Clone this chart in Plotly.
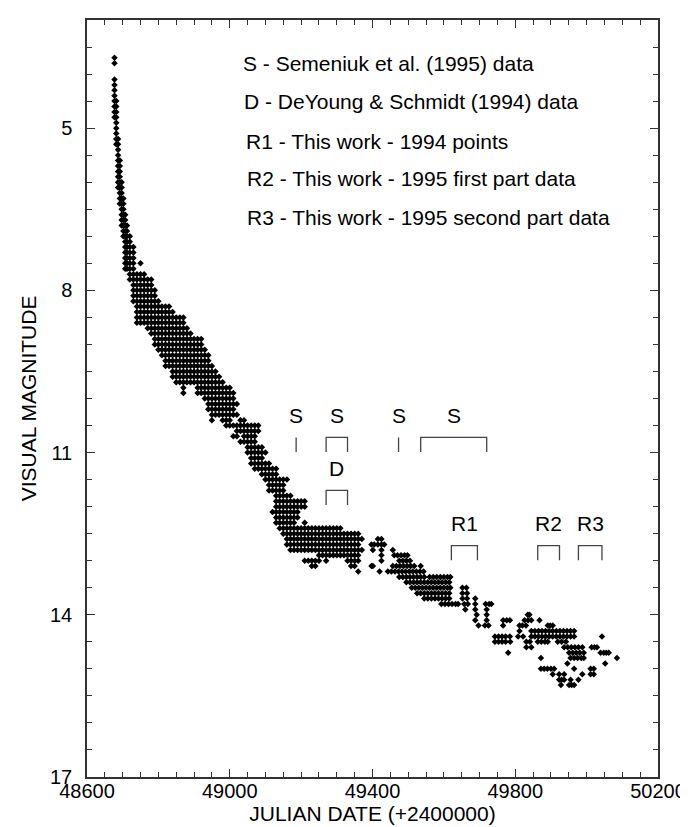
import plotly.graph_objects as go

# ---------------- data (magnitudes stored in tenths of a magnitude) ----------------
# dense part of the light curve: one column of estimates per date
col_jd = [48677, 48682, 48687, 48692, 48697, 48702, 48707, 48712, 48720, 48730,
          48740, 48750, 48760, 48770, 48780, 48790, 48800, 48810, 48820, 48830,
          48840, 48850, 48860, 48870, 48880, 48890, 48900, 48910, 48920, 48930,
          48940, 48950, 48960, 48970, 48980, 48990, 49000, 49010, 49020, 49030,
          49040, 49050, 49060, 49070, 49080, 49090, 49100, 49110, 49120, 49130,
          49140, 49150, 49160, 49170, 49180, 49190, 49200, 49210, 49220, 49230,
          49240, 49250, 49260, 49270, 49280, 49290, 49300, 49310, 49320, 49330,
          49340, 49350, 49360, 49370]
col_mag10 = [
    [37, 38, 41, 42, 43, 44, 45, 46, 47, 48],
    [45, 46, 47, 48, 49, 50, 51, 52, 53],
    [52, 53, 54, 55, 56, 57, 58, 59, 60, 61],
    [56, 57, 58, 59, 60, 61, 62, 63, 64],
    [60, 61, 62, 63, 64, 65, 66, 67, 68],
    [63, 64, 65, 66, 67, 68, 69, 70],
    [66, 67, 68, 69, 70, 71, 72, 73, 74, 75, 76],
    [68, 69, 70, 71, 72, 73, 74, 75, 76],
    [70, 71, 72, 73, 74, 75, 76, 77, 78],
    [72, 73, 74, 75, 76, 77, 78, 79, 80, 81, 82],
    [77, 78, 79, 80, 81, 82, 83, 84, 85, 86],
    [75, 77, 78, 79, 80, 81, 82, 83, 84, 85, 86],
    [77, 78, 79, 80, 81, 82, 83, 84, 85, 86],
    [78, 79, 80, 81, 82, 83, 84, 85, 86, 87],
    [78, 79, 80, 81, 82, 83, 84, 85, 86, 87, 88],
    [80, 81, 82, 83, 84, 85, 86, 87, 88, 89, 90],
    [82, 83, 84, 85, 86, 87, 88, 89, 90, 91],
    [83, 84, 85, 86, 87, 88, 89, 90, 91, 92],
    [83, 84, 85, 86, 87, 88, 89, 90, 91, 92, 93, 94],
    [83, 84, 85, 86, 87, 88, 89, 90, 91, 92, 93, 94],
    [84, 85, 86, 87, 88, 89, 90, 91, 92, 93, 94, 95, 96],
    [85, 86, 87, 88, 89, 90, 91, 92, 93, 94, 95, 96, 97],
    [85, 86, 87, 88, 89, 90, 91, 92, 93, 94, 95, 96, 97],
    [85, 86, 87, 88, 89, 90, 91, 92, 93, 94, 95, 96, 97, 98, 99],
    [87, 88, 89, 90, 91, 92, 93, 94, 95, 96, 97],
    [88, 89, 90, 91, 92, 93, 94, 95, 96, 97],
    [89, 90, 91, 92, 93, 94, 95, 96, 97],
    [89, 90, 91, 92, 93, 94, 95, 96, 97, 98, 99],
    [89, 90, 91, 92, 93, 94, 95, 96, 97, 98, 99],
    [91, 92, 93, 94, 95, 96, 97, 98, 99, 100],
    [92, 93, 94, 95, 96, 97, 98, 99, 100, 101, 102],
    [94, 95, 96, 97, 98, 99, 100, 101, 102, 103, 104],
    [95, 96, 97, 98, 99, 100, 101, 102, 103],
    [96, 97, 98, 99, 100, 101, 102, 103],
    [97, 98, 99, 100, 101, 102, 103, 104],
    [98, 99, 100, 101, 102, 103, 104, 105],
    [98, 99, 100, 101, 102, 103, 104, 105],
    [99, 100, 101, 102, 103, 105, 107],
    [101, 103, 105, 106, 107],
    [104, 105, 106, 108],
    [104, 105, 106, 107, 108],
    [105, 106, 107, 108, 109, 110],
    [105, 106, 107, 108, 109, 110, 111, 112],
    [105, 106, 107, 108, 109, 110, 111, 112, 113],
    [105, 106, 109, 110, 111, 112, 113],
    [109, 110, 111, 112, 113, 114],
    [110, 112, 113, 114, 115],
    [112, 113, 114, 115, 116, 117],
    [113, 114, 115, 116, 117, 121],
    [113, 114, 115, 116, 117, 118, 119, 120, 121, 122, 123],
    [115, 116, 117, 118, 119, 120, 121, 122, 123, 124],
    [115, 116, 117, 118, 119, 120, 121, 122, 123, 124, 125],
    [115, 118, 119, 120, 121, 122, 123, 124, 125, 126, 127],
    [118, 119, 120, 121, 122, 123, 124, 125, 126, 127, 128],
    [119, 120, 121, 122, 123, 124, 125, 126, 127, 128],
    [119, 120, 121, 122, 124, 125, 126, 127, 128],
    [119, 120, 124, 125, 126, 127, 128],
    [119, 120, 123, 124, 125, 126, 127, 128, 130],
    [124, 125, 126, 127, 128, 130],
    [124, 125, 126, 127, 128, 130, 131],
    [124, 125, 126, 127, 128, 130, 131],
    [124, 125, 126, 127, 128, 129, 130],
    [124, 125, 126, 127, 128, 129],
    [124, 125, 126, 127, 128, 129, 130],
    [124, 125, 126, 127, 128, 129],
    [124, 125, 126, 127, 128, 129],
    [124, 125, 126, 127, 128, 129],
    [124, 125, 126, 127, 128, 129],
    [125, 126, 127, 128, 129],
    [125, 126, 127, 128, 129, 130],
    [125, 126, 127, 128, 129, 130, 131],
    [125, 126, 127, 128, 129, 130, 131],
    [125, 126, 127, 128, 129, 130, 132],
    [126, 128],
]

# sparse late part: one row of dates per magnitude
row_mag10 = [126, 127, 128, 129, 130, 131, 132, 133, 134, 135, 136, 137, 138, 139,
             140, 141, 142, 143, 144, 145, 146, 147, 148, 149, 150, 151, 152, 153]
row_jd = [
    [49415, 49425],
    [49397, 49405, 49415, 49425, 49433],
    [49401, 49425, 49457],
    [49425, 49461, 49470, 49480, 49490, 49498],
    [49425, 49475, 49485, 49495, 49505],
    [49397, 49401, 49457, 49467, 49477, 49487, 49497, 49507, 49517, 49535],
    [49420, 49443, 49453, 49463, 49473, 49483, 49493, 49503, 49513, 49523, 49533, 49543],
    [49475, 49485, 49495, 49505, 49515, 49525, 49535, 49545, 49560, 49570, 49580,
     49590, 49600, 49610, 49618],
    [49495, 49505, 49515, 49525, 49535, 49545, 49555, 49565, 49575, 49585, 49595,
     49605, 49615],
    [49510, 49520, 49530, 49540, 49550, 49560, 49570, 49580, 49590, 49600, 49610,
     49618, 49652, 49663],
    [49525, 49535, 49545, 49555, 49565, 49575, 49585, 49595, 49605, 49615, 49652, 49665],
    [49545, 49555, 49565, 49575, 49585, 49595, 49605, 49615, 49652, 49665, 49688],
    [49593, 49603, 49613, 49623, 49633, 49640, 49657, 49667, 49688, 49717, 49727, 49733],
    [49660, 49688, 49720],
    [49692, 49720, 49835, 49840],
    [49688, 49720, 49766, 49776, 49785, 49826, 49836, 49845, 49868],
    [49697, 49715, 49725, 49766, 49812, 49820, 49830, 49891, 49898, 49905],
    [49812, 49845, 49855, 49865, 49875, 49885, 49895, 49905, 49915, 49925, 49935,
     49945, 49955, 49965],
    [49743, 49753, 49763, 49773, 49785, 49808, 49822, 49845, 49855, 49865, 49875,
     49885, 49895, 49905, 49915, 49925, 49935, 49945, 49955, 49965, 50043],
    [49743, 49753, 49763, 49773, 49786, 49831, 49841, 49863, 49873, 49883, 49891,
     49919, 49930, 49942],
    [49831, 49845, 49937, 49947, 49957, 49967, 49977, 49988, 50014, 50022, 50029],
    [49780, 49951, 49961, 49971, 49981, 49992, 50039, 50048, 50055, 50062],
    [49872, 49955, 49965, 49975, 49985, 49992, 50085],
    [49946, 50052],
    [49872, 49881, 49890, 49900, 49909, 49965, 50011, 50020],
    [49905, 49923, 49937, 49988, 50011, 50020],
    [49923, 49930, 49937, 49955, 49977],
    [49928, 49951, 49958, 49965],
]

# observing-interval markers
bracket_label = ["S", "S", "S", "S", "D", "R1", "R2", "R3"]
bracket_start = [49186, 49270, 49473, 49535, 49270, 49621, 49863, 49977]
bracket_end = [49186, 49330, 49473, 49720, 49330, 49694, 49924, 50043]
bracket_mag = [10.72, 10.72, 10.72, 10.72, 11.70, 12.72, 12.72, 12.72]

key_lines = [
    "S - Semeniuk et al. (1995) data",
    "D - DeYoung & Schmidt (1994) data",
    "R1 - This work - 1994 points",
    "R2 - This work - 1995 first part data",
    "R3 - This work - 1995 second part data",
]
key_jd = [49032, 49035, 49040, 49043, 49043]
key_mag = [3.80, 4.51, 5.25, 5.93, 6.65]

x_ticks = [48600, 49000, 49400, 49800, 50200]
y_ticks = [5, 8, 11, 14, 17]

# ---------------- figure ----------------
xs, ys = [], []
for jd, mags in zip(col_jd, col_mag10):
    for m in mags:
        xs.append(jd)
        ys.append(m / 10)
for m, jds in zip(row_mag10, row_jd):
    for jd in jds:
        xs.append(jd)
        ys.append(m / 10)

FONT = "Liberation Sans, Arial, Helvetica, sans-serif"
AX = "#333333"

fig = go.Figure()
fig.add_trace(go.Scatter(
    x=xs, y=ys, mode="markers",
    marker=dict(symbol="diamond", size=5, color="black", line=dict(width=0)),
    hoverinfo="skip", showlegend=False,
))

shapes = []
annotations = []
BH = 0.27
for lab, x0, x1, top in zip(bracket_label, bracket_start, bracket_end, bracket_mag):
    if x0 == x1:
        shapes.append(dict(type="line", xref="x", yref="y", x0=x0, x1=x1,
                           y0=top, y1=top + BH, line=dict(color="#444", width=1.3)))
    else:
        shapes.append(dict(type="path", xref="x", yref="y",
                           path=f"M {x0},{top + BH} L {x0},{top} L {x1},{top} L {x1},{top + BH}",
                           line=dict(color="#444", width=1.3)))
    annotations.append(dict(x=(x0 + x1) / 2, y=top - 0.40, xref="x", yref="y",
                            text=lab, showarrow=False, xanchor="center", yanchor="middle",
                            font=dict(family=FONT, size=21, color="black")))

for t, jx, my in zip(key_lines, key_jd, key_mag):
    annotations.append(dict(x=jx, y=my, xref="x", yref="y", text=t, showarrow=False,
                            xanchor="left", yanchor="middle",
                            font=dict(family=FONT, size=21, color="black")))

fig.update_layout(
    width=688, height=827,
    margin=dict(l=79, r=31, t=10, b=58),
    paper_bgcolor="white", plot_bgcolor="white",
    font=dict(family=FONT, color="black"),
    shapes=shapes, annotations=annotations,
    xaxis=dict(
        range=[48600, 50200], tickmode="array", tickvals=x_ticks,
        ticktext=[str(v) for v in x_ticks],
        ticks="inside", ticklen=8, tickwidth=1, tickcolor=AX,
        minor=dict(dtick=50, tick0=48600, ticks="inside", ticklen=5, tickwidth=1, tickcolor=AX),
        showline=True, linecolor=AX, linewidth=1.5, mirror="allticks",
        showgrid=False, zeroline=False, ticklabelstandoff=-5,
        tickfont=dict(family=FONT, size=20, color="black"),
        title=dict(text="JULIAN DATE (+2400000)", font=dict(family=FONT, size=21, color="black"),
                   standoff=3),
    ),
    yaxis=dict(
        range=[17, 3], tickmode="array", tickvals=y_ticks,
        ticktext=[str(v) for v in y_ticks],
        ticks="inside", ticklen=8, tickwidth=1, tickcolor=AX,
        minor=dict(dtick=0.5, tick0=3, ticks="inside", ticklen=5, tickwidth=1, tickcolor=AX),
        showline=True, linecolor=AX, linewidth=1.5, mirror="allticks",
        showgrid=False, zeroline=False, ticklabelstandoff=9,
        tickfont=dict(family=FONT, size=20, color="black"),
        title=dict(text="VISUAL MAGNITUDE", font=dict(family=FONT, size=21, color="black"),
                   standoff=8),
    ),
)

fig.write_html("out.html")
